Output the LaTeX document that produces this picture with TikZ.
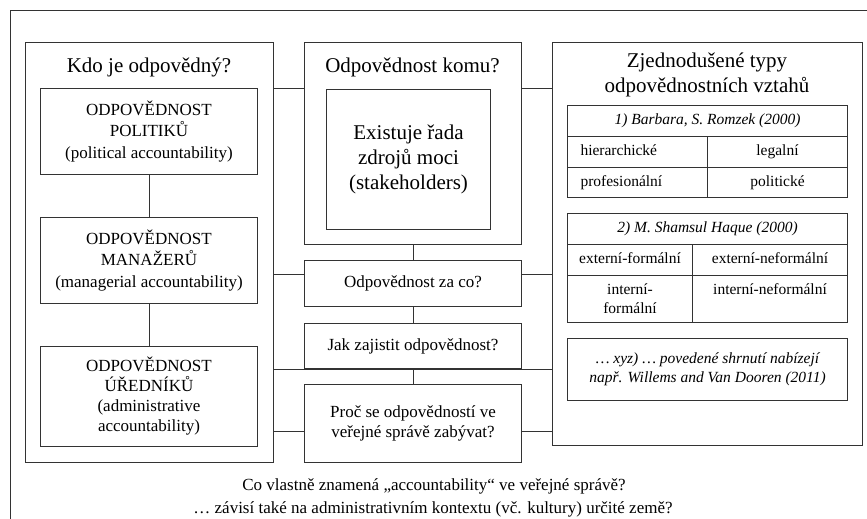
\documentclass[tikz,border=0pt]{standalone}
\usepackage{fontspec}
\setmainfont{Liberation Serif}
\usetikzlibrary{positioning}

\begin{document}
\begin{tikzpicture}[x=1pt,y=-1pt,
  line width=1pt, draw=black!80,
  panel/.style={draw, anchor=north west, inner sep=0pt},
  box/.style={draw, anchor=north west, inner sep=0pt, align=center, font=\fontsize{17}{21.5}\selectfont},
  cell/.style={draw, anchor=north west, inner sep=0pt, align=center, font=\fontsize{15.5}{19}\selectfont},
  row/.style={cell, text height=11pt, text depth=4pt},
  head/.style={align=center, font=\fontsize{21}{24.5}\selectfont},
  link/.style={draw=black!80}]
\useasboundingbox (0,0) rectangle (867,519);
\clip (0,0) rectangle (867,519);
\draw (10,11) rectangle (890,540);

% Kdo je odpovedny?
\node[panel, minimum width=248pt, minimum height=420pt] (kdo) at (25,42) {};
\node[head] (kdot) at (149,67) {Kdo je odpovědný?};
\node[box, minimum width=217pt, minimum height=86pt] (pol) at (40,88) {ODPOVĚDNOST\\POLITIKŮ\\(political accountability)};
\node[box, minimum width=217pt, minimum height=86pt] (man) at (40,217) {ODPOVĚDNOST\\MANAŽERŮ\\(managerial accountability)};
\node[box, minimum width=217pt, minimum height=100pt, font=\fontsize{17}{20}\selectfont] (ure) at (40,346) {ODPOVĚDNOST\\ÚŘEDNÍKŮ\\(administrative\\accountability)};

% Odpovednost komu?
\node[panel, minimum width=217pt, minimum height=202pt] (komu) at (304,42) {};
\node[head] (komut) at (412.5,67) {Odpovědnost komu?};
\node[box, minimum width=164pt, minimum height=140pt, font=\fontsize{21}{25}\selectfont] (stake) at (326,89) {Existuje řada\\zdrojů moci\\(stakeholders)};
\node[box, minimum width=217pt, minimum height=46pt] (zaco) at (304,260) {Odpovědnost za co?};
\node[box, minimum width=217pt, minimum height=45pt] (jak) at (304,323) {Jak zajistit odpovědnost?};
\node[box, minimum width=217pt, minimum height=78pt, font=\fontsize{17}{20}\selectfont] (proc) at (304,384) {Proč se odpovědností ve\\veřejné správě zabývat?};

% Zjednodusene typy
\node[panel, minimum width=310pt, minimum height=403pt] (typy) at (552,42) {};
\node[head] (typyt) at (707,75) {Zjednodušené typy\\odpovědnostních vztahů};
\node[row, minimum width=280pt, minimum height=31pt, font=\fontsize{15.5}{19}\selectfont\itshape] (rom) at (567,105) {1) Barbara, S. Romzek (2000)};
\node[row, minimum width=140pt, minimum height=31pt, text width=114pt, align=left] (hier) at (567,136) {hierarchické};
\node[row, minimum width=140pt, minimum height=31pt] (leg) at (707,136) {legalní};
\node[row, minimum width=140pt, minimum height=30pt, text width=114pt, align=left] (prof) at (567,167) {profesionální};
\node[row, minimum width=140pt, minimum height=30pt] (polit) at (707,167) {politické};
\node[row, minimum width=280pt, minimum height=31pt, font=\fontsize{15.5}{19}\selectfont\itshape] (haq) at (567,213) {2) M. Shamsul Haque (2000)};
\node[row, minimum width=125pt, minimum height=31pt] (exf) at (567,244) {externí-formální};
\node[row, minimum width=155pt, minimum height=31pt] (exn) at (692,244) {externí-neformální};
\node[cell, minimum width=125pt, minimum height=47pt] (inf) at (567,275) {interní-\\formální};
\node[cell, minimum width=155pt, minimum height=47pt] (inn) at (692,275) {interní-neformální\\\mbox{}};
\node[cell, minimum width=280pt, minimum height=62pt, font=\fontsize{15.5}{19}\selectfont\itshape] (xyz) at (567,338) {… xyz) … povedené shrnutí nabízejí\\např. Willems and Van Dooren (2011)};

% spojnice
\draw[link] (pol) -- (man);
\draw[link] (man) -- (ure);
\draw[link] (komu) -- (zaco);
\draw[link] (zaco) -- (jak);
\draw[link] (jak) -- (proc);
\draw[link] (kdo.east |- pol.north) -- (komu.west |- pol.north);
\draw[link] (komu.east |- pol.north) -- (typy.west |- pol.north);
\draw[link] (kdo.east |- 0,274) -- (zaco.west |- 0,274);
\draw[link] (zaco.east |- 0,274) -- (typy.west |- 0,274);
\draw[link] (kdo.east |- jak.south) -- (typy.west |- jak.south);
\draw[link] (kdo.east |- 0,431) -- (proc.west |- 0,431);
\draw[link] (proc.east |- 0,431) -- (typy.west |- 0,431);

\node[anchor=base, font=\fontsize{17}{21}\selectfont] (q1) at (434,490) {Co vlastně znamená „accountability“ ve veřejné správě?};
\node[anchor=base, font=\fontsize{17}{21}\selectfont] (q2) at (433,513) {… závisí také na administrativním kontextu (vč. kultury) určité země?};
\end{tikzpicture}
\end{document}
